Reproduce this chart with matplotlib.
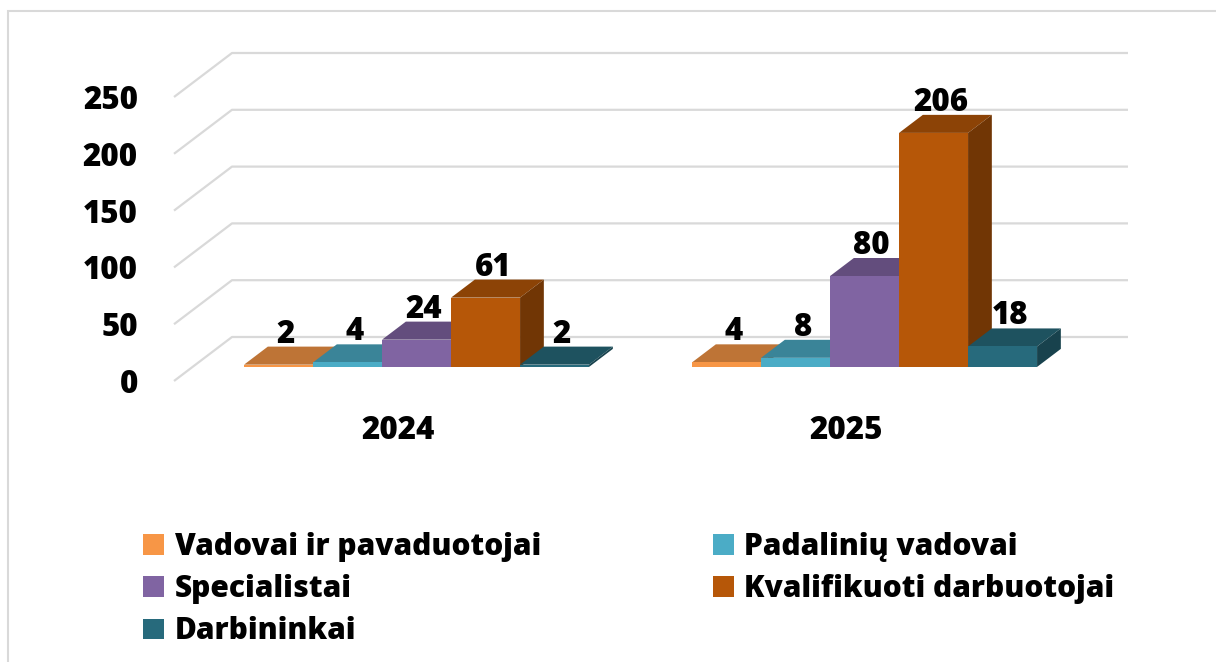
import matplotlib
matplotlib.use("Agg")
import matplotlib.pyplot as plt
from matplotlib.patches import Polygon, Rectangle, Patch
import numpy as np

years = ["2024", "2025"]
series = ["Vadovai ir pavaduotojai", "Padalinių vadovai", "Specialistai",
          "Kvalifikuoti darbuotojai", "Darbininkai"]
vals_2024 = [2, 4, 24, 61, 2]
vals_2025 = [4, 8, 80, 206, 18]
yticks = [0, 50, 100, 150, 200, 250]
colors = ["#F79646", "#4BACC6", "#8064A2", "#B65708", "#276A7C"]

plt.rcParams['font.family'] = ['Open Sans', 'DejaVu Sans']
plt.rcParams['font.weight'] = 800

W, H = 1216, 662
fig = plt.figure(figsize=(W / 100, H / 100), dpi=100)
# front plane of the fake 3d box: x 174..1070 px, value 0 at y=381 px, 250 at y=97 px
ax = fig.add_axes([174 / W, (H - 381) / H, 896 / W, 284 / H])
ax.set_xlim(0, 2)
ax.set_ylim(0, 250)
ax.axis("off")

DX = 58 / 448            # depth shift, category units
DY = 44 / (284 / 250)    # depth shift, value units
f0, f1 = 0.32, 0.73      # bars sit between these depth fractions
d = f1 - f0
bw = 69 / 448
grid_c = "#d9d9d9"
fs = 22.5
fw = 800


def shade(c, k):
    r, g, b = matplotlib.colors.to_rgb(c)
    return (r * k, g * k, b * k)


# walls / gridlines
for v in yticks:
    ax.plot([0, DX, 2 + DX], [v, v + DY, v + DY], color=grid_c, lw=1.6,
            clip_on=False, zorder=1, solid_capstyle="butt")
    ax.annotate(str(v), (0, v), xytext=(-36, -12), textcoords="offset pixels",
                ha="right", va="baseline", fontsize=fs, fontweight=fw,
                annotation_clip=False)

# bars
for i, vals in enumerate([vals_2024, vals_2025]):
    c = i + 0.5
    for j, h in enumerate(vals):
        xc = c + (j - 2) * bw + f0 * DX
        xl, xr = xc - bw / 2, xc + bw / 2
        y0 = f0 * DY
        top = y0 + h
        z = 3 + j
        ax.bar(xc, h, bottom=y0, width=bw, color=colors[j], zorder=z,
               clip_on=False, linewidth=0)
        ax.add_patch(Polygon([(xl, top), (xr, top), (xr + d * DX, top + d * DY),
                              (xl + d * DX, top + d * DY)], closed=True,
                             facecolor=shade(colors[j], 0.77), edgecolor="none",
                             zorder=z - 0.5, clip_on=False))
        ax.add_patch(Polygon([(xr, y0), (xr, top), (xr + d * DX, top + d * DY),
                              (xr + d * DX, y0 + d * DY)], closed=True,
                             facecolor=shade(colors[j], 0.62), edgecolor="none",
                             zorder=z - 0.5, clip_on=False))
        ax.annotate(str(h), (xc + 0.3 * d * DX, top + d * DY), xytext=(0, 4),
                    textcoords="offset pixels", ha="center", va="baseline",
                    fontsize=fs, fontweight=fw, zorder=20,
                    annotation_clip=False)
    ax.annotate(years[i], (c, 0), xytext=(0, -58), textcoords="offset pixels",
                ha="center", va="baseline", fontsize=fs, fontweight=fw,
                annotation_clip=False)

# legend, filled row by row like the original
handles = [Patch(facecolor=col, edgecolor="none") for col in colors]
order = [0, 2, 4, 1, 3]
fig.legend([handles[k] for k in order], [series[k] for k in order], ncol=2,
           loc="upper left", bbox_to_anchor=(143 / W, 1 - 532 / H),
           frameon=False, prop={"size": 21.5, "weight": fw},
           handlelength=0.7, handleheight=0.7, handletextpad=0.36,
           columnspacing=5.75, labelspacing=0.41, borderpad=0, borderaxespad=0)

# chart border (right and bottom edges fall outside the picture)
fig.patches.append(Rectangle((8 / W, -0.1), 1.2, (H - 11) / H + 0.1,
                             transform=fig.transFigure, fill=False,
                             edgecolor=grid_c, lw=1.5))

fig.savefig("out.png", dpi=100)
